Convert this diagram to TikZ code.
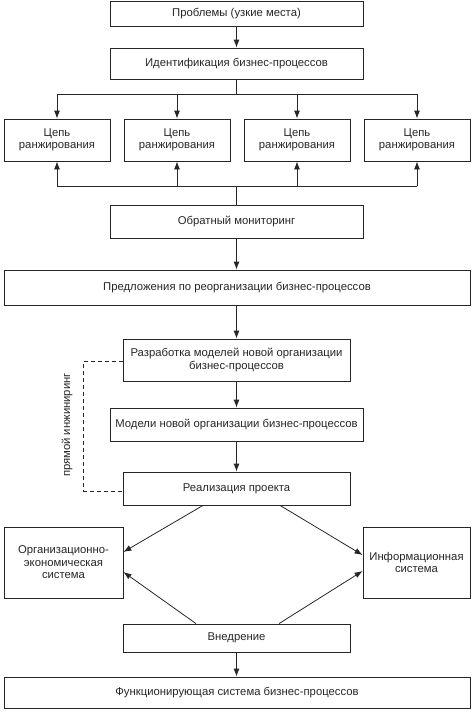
\documentclass[tikz,border=0pt]{standalone}
\usepackage{fontspec}
\setmainfont{Liberation Sans}
\usetikzlibrary{arrows.meta}
\tikzset{
	box/.style={draw=black!85, line width=0.8pt, inner sep=0pt, align=center, text=black!85, font=\fontsize{11.3}{12.5}\selectfont},
	arr/.style={draw=black!85, line width=0.8pt, -{Latex[length=8pt,width=6pt]}},
	ln/.style={draw=black!85, line width=0.8pt},
	dashline/.style={draw=black!85, line width=0.8pt, dash pattern=on 4pt off 3pt}
}

\begin{document}
\begin{tikzpicture}[x=1pt, y=-1pt]
		%%%%% START %%%%%
		\useasboundingbox (0, 0) rectangle (474, 712);
		
		\node[box, minimum width=253, minimum height=25] (probl) at (236.5, 13.5) {Проблемы (узкие места)};
		\node[box, minimum width=253, minimum height=31] (ident) at (236.5, 63.5) {Идентификация бизнес-процессов};
		
		\node[box, minimum width=106, minimum height=42] (c1) at (57, 140) {Цепь\\ранжирования};
		\node[box, minimum width=106, minimum height=42] (c2) at (177, 140) {Цепь\\ранжирования};
		\node[box, minimum width=106, minimum height=42] (c3) at (297, 140) {Цепь\\ранжирования};
		\node[box, minimum width=106, minimum height=42] (c4) at (417, 140) {Цепь\\ранжирования};
		
		\node[box, minimum width=253, minimum height=33] (obrat) at (236.5, 221.5) {Обратный мониторинг};
		\node[box, minimum width=466, minimum height=35] (predl) at (237, 287.5) {Предложения по реорганизации бизнес-процессов};
		
		\node[box, minimum width=227, minimum height=42] (razrab) at (236.5, 360) {Разработка моделей новой организации\\бизнес-процессов};
		\node[box, minimum width=253, minimum height=33] (model) at (236.5, 424.5) {Модели новой организации бизнес-процессов};
		\node[box, minimum width=227, minimum height=33] (realiz) at (236.5, 488.5) {Реализация проекта};
		
		\node[box, minimum width=119, minimum height=71] (orgek) at (63.5, 562.5) {Организационно-\\экономическая\\система};
		\node[box, minimum width=107, minimum height=71] (inform) at (416.5, 562.5) {Информационная\\система};
		
		\node[box, minimum width=227, minimum height=28] (vnedr) at (236.5, 638) {Внедрение};
		\node[box, minimum width=466, minimum height=31] (funk) at (237, 692.5) {Функционирующая система бизнес-процессов};
		
		% fork to the chains
		\coordinate (forktop) at (236.5, 94);
		\coordinate (forkbot) at (236.5, 186);
		
		\draw[arr] (probl) -- (ident);
		\draw[ln] (ident.south) -- (forktop);
		\draw[ln] (forktop -| c1) -- (forktop -| c4);
		\foreach \i in {1,...,4}
			\draw[arr] (forktop -| c\i.north) -- (c\i.north);
		
		\draw[ln] (obrat.north) -- (forkbot);
		\draw[ln] (forkbot -| c1) -- (forkbot -| c4);
		\foreach \i in {1,...,4}
			\draw[arr] (forkbot -| c\i.south) -- (c\i.south);
		
		\draw[arr] (obrat.south) -- (predl.north -| obrat.south);
		\draw[arr] (predl.south -| razrab.north) -- (razrab.north);
		\draw[arr] (razrab) -- (model);
		\draw[arr] (model) -- (realiz);
		
		% direct engineering
		\draw[dashline] ([yshift=-1pt]razrab.west) -- ++(-39, 0) |- ([yshift=-2.5pt]realiz.west);
		\node[rotate=90, text=black!85, font=\fontsize{11.3}{12.5}\selectfont] (pryam) at (67, 425) {прямой инжиниринг};
		
		\draw[arr] ([xshift=-33.5pt]realiz.south) -- ([yshift=10.5pt]orgek.east);
		\draw[arr] ([xshift=43.5pt]realiz.south) -- ([yshift=7.5pt]inform.west);
		\draw[arr] ([xshift=-40.5pt]vnedr.north) -- ([yshift=-9.5pt]orgek.east);
		\draw[arr] ([xshift=42.5pt]vnedr.north) -- ([yshift=-8.5pt]inform.west);
		
		\draw[arr] (vnedr.south) -- (funk.north -| vnedr.south);
		
		%%%%% END %%%%%
	\end{tikzpicture}
\end{document}
